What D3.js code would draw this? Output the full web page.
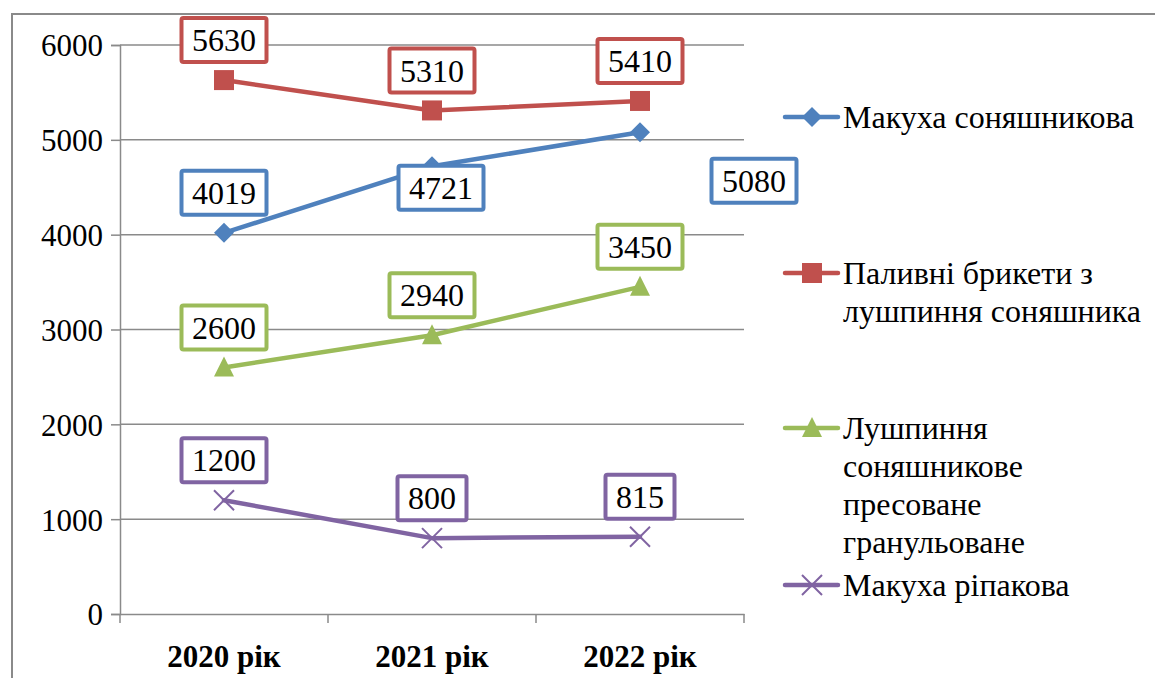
<!DOCTYPE html>
<html>
<head>
<meta charset="utf-8">
<script src="https://cdn.jsdelivr.net/npm/d3@7"></script>
</head>
<body style="margin:0">
<svg id="chart" width="1155" height="678" style="display:block"></svg>
<script>
// ---- data ----
const categories = ["2020 рік", "2021 рік", "2022 рік"];
const seriesNames = [
  "Макуха соняшникова",
  "Паливні брикети з лушпиння соняшника",
  "Лушпиння соняшникове пресоване гранульоване",
  "Макуха ріпакова"
];
const legendLines = [
  ["Макуха соняшникова"],
  ["Паливні брикети з", "лушпиння соняшника"],
  ["Лушпиння", "соняшникове", "пресоване", "гранульоване"],
  ["Макуха ріпакова"]
];
const makuhaSon = [4019, 4721, 5080];
const bryketi = [5630, 5310, 5410];
const lushpynnya = [2600, 2940, 3450];
const makuhaRip = [1200, 800, 815];
const yTicks = [0, 1000, 2000, 3000, 4000, 5000, 6000];

const colors = ["#4F81BD", "#C0504D", "#9BBB59", "#8064A2"];
const markers = ["diamond", "square", "triangle", "x"];
const seriesValues = [makuhaSon, bryketi, lushpynnya, makuhaRip];

const FONT = "Liberation Serif";
const setFont = (sel, size) => sel
  .attr("font-family", FONT).attr("font-size", size)
  .style("font-family", FONT, "important").style("font-size", size + "px", "important");

// label offsets (dx, dy from the point) — default is above the point
const labelOffsets = {
  "0-1": [9, 21.5],
  "0-2": [114, 48.5]
};

const svg = d3.select("#chart");

// outer border
svg.append("rect")
  .attr("x", 12).attr("y", 14)
  .attr("width", 1160).attr("height", 680)
  .attr("fill", "none").attr("stroke", "#8a8a8a").attr("stroke-width", 2);

const x = d3.scaleBand().domain(categories).range([120, 744]);
const y = d3.scaleLinear().domain([0, 6000]).range([614, 45]);

// gridlines
svg.append("g").selectAll("line").data(yTicks.filter(d => d > 0)).join("line")
  .attr("x1", 120).attr("x2", 744)
  .attr("y1", d => y(d)).attr("y2", d => y(d))
  .attr("stroke", "#8a8a8a").attr("stroke-width", 1.5);

// y axis
const yAxis = svg.append("g").attr("transform", "translate(120,0)")
  .call(d3.axisLeft(y).tickValues(yTicks).tickSize(9).tickPadding(8).tickFormat(d3.format("d")));
yAxis.attr("font-family", FONT);
yAxis.select(".domain").attr("stroke", "#8a8a8a").attr("stroke-width", 1.5);
yAxis.selectAll(".tick line").attr("stroke", "#8a8a8a").attr("stroke-width", 1.5);
setFont(yAxis.selectAll(".tick text"), 31).attr("fill", "#000").attr("dy", "0.35em");

// x axis
const xAxis = svg.append("g").attr("transform", "translate(0,614)")
  .call(d3.axisBottom(x).tickSize(0).tickPadding(31));
xAxis.attr("font-family", FONT);
xAxis.select(".domain").attr("stroke", "#8a8a8a").attr("stroke-width", 1.5);
setFont(xAxis.selectAll(".tick text"), 31).attr("font-weight", "bold")
  .style("font-weight", "bold", "important").attr("fill", "#000");
// category boundary tick marks
const bounds = categories.map(c => x(c)).concat([x(categories[categories.length - 1]) + x.bandwidth()]);
xAxis.selectAll(".btick").data(bounds).join("line").attr("class", "btick")
  .attr("x1", d => d).attr("x2", d => d).attr("y1", 0).attr("y2", 9)
  .attr("stroke", "#8a8a8a").attr("stroke-width", 1.5);

const cx = c => x(c) + x.bandwidth() / 2;

function drawMarker(g, type, color, px, py) {
  if (type === "diamond") {
    g.append("path").attr("d", `M${px},${py-10}L${px+10},${py}L${px},${py+10}L${px-10},${py}Z`).attr("fill", color);
  } else if (type === "square") {
    g.append("rect").attr("x", px - 10).attr("y", py - 10).attr("width", 20).attr("height", 20).attr("fill", color);
  } else if (type === "triangle") {
    g.append("path").attr("d", `M${px},${py-11}L${px+10},${py+9}L${px-10},${py+9}Z`).attr("fill", color);
  } else if (type === "x") {
    g.append("path").attr("d", `M${px-10},${py-10}L${px+10},${py+10}M${px+10},${py-10}L${px-10},${py+10}`)
      .attr("stroke", color).attr("stroke-width", 2).attr("fill", "none");
  }
}

const line = d3.line().x((d, i) => cx(categories[i])).y(d => y(d));

seriesValues.forEach((vals, si) => {
  const g = svg.append("g");
  g.append("path").datum(vals).attr("d", line)
    .attr("fill", "none").attr("stroke", colors[si]).attr("stroke-width", 4.5)
    .attr("stroke-linejoin", "round").attr("stroke-linecap", "round");
  vals.forEach((v, i) => drawMarker(g, markers[si], colors[si], cx(categories[i]), y(v)));
});

// data labels
seriesValues.forEach((vals, si) => {
  vals.forEach((v, i) => {
    const off = labelOffsets[si + "-" + i] || [0, -40];
    const lx = cx(categories[i]) + off[0];
    const ly = y(v) + off[1];
    const g = svg.append("g");
    const t = setFont(g.append("text"), 32).attr("x", lx).attr("y", ly).attr("dy", "0.35em")
      .attr("text-anchor", "middle").attr("fill", "#000").text(v);
    const w = String(v).length * 16;
    g.insert("rect", "text")
      .attr("x", lx - w / 2 - 10.5).attr("y", ly - 22)
      .attr("width", w + 21).attr("height", 44)
      .attr("rx", 2)
      .attr("fill", "#fff").attr("stroke", colors[si]).attr("stroke-width", 4);
  });
});

// legend
const legendY = [117, 273, 428, 585];
const lineH = 38;
seriesNames.forEach((name, si) => {
  const g = svg.append("g");
  const ly = legendY[si];
  g.append("line").attr("x1", 785).attr("x2", 838).attr("y1", ly).attr("y2", ly)
    .attr("stroke", colors[si]).attr("stroke-width", 4.5).attr("stroke-linecap", "round");
  drawMarker(g, markers[si], colors[si], 812, ly);
  const t = setFont(g.append("text"), 32).attr("x", 843).attr("y", ly).attr("fill", "#000");
  legendLines[si].forEach((ln, k) => {
    t.append("tspan").attr("x", 843).attr("y", ly + k * lineH).attr("dy", "0.35em").text(ln);
  });
});
</script>
</body>
</html>
